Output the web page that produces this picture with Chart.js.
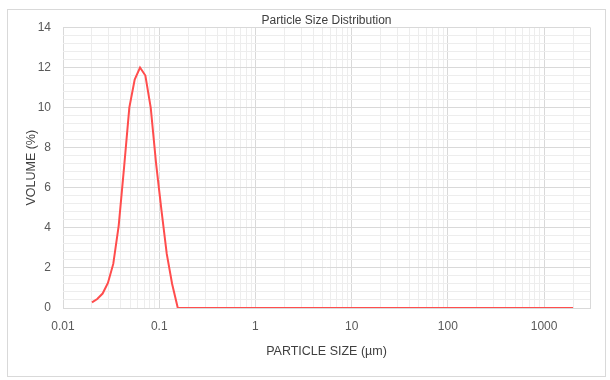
<!DOCTYPE html>
<html>
<head>
<meta charset="utf-8">
<script src="https://cdn.jsdelivr.net/npm/chart.js@4/dist/chart.umd.min.js"></script>
<style>
  html, body { margin: 0; padding: 0; background: #ffffff; }
  #wrap { position: relative; width: 610px; height: 380px; }
</style>
</head>
<body>
<div id="wrap"><canvas id="c" width="610" height="380"></canvas></div>
<script>
// ---- data ----
const chartTitle = "Particle Size Distribution";
const xTitle = "PARTICLE SIZE (\u00b5m)";
const yTitle = "VOLUME (%)";
const particleSize = [0.0200, 0.0227, 0.0258, 0.0293, 0.0333, 0.0379, 0.0431, 0.0489, 0.0556, 0.0632,
                      0.0718, 0.0816, 0.0928, 0.1054, 0.1198, 0.1362, 0.1560, 1, 10, 100, 1000, 2000];
const volumePct    = [0.28, 0.45, 0.72, 1.25, 2.2, 4.1, 7.0, 10.0, 11.4, 12.0,
                      11.6, 10.0, 7.2, 4.9, 2.7, 1.2, 0, 0, 0, 0, 0, 0];
const xTickLabels = ["0.01", "0.1", "1", "10", "100", "1000"];
const yTickLabels = ["0", "2", "4", "6", "8", "10", "12", "14"];
const xMin = 0.01, xMax = 3000;
const yMin = 0, yMax = 14, yMinorStep = 0.4;

const FONT = "'Liberation Sans Narrow', 'Liberation Sans', sans-serif";
const MAJOR = '#d9d9d9';
const MINOR = '#ededed';

const borderPlugin = {
  id: 'outerBorder',
  beforeDraw(chart) {
    const ctx = chart.ctx;
    ctx.save();
    ctx.fillStyle = '#ffffff';
    ctx.fillRect(0, 0, chart.width, chart.height);
    ctx.strokeStyle = '#d9d9d9';
    ctx.lineWidth = 1;
    ctx.strokeRect(7.5, 9.5, 598, 367);
    ctx.restore();
  }
};

new Chart(document.getElementById('c'), {
  type: 'scatter',
  data: {
    datasets: [{
      data: particleSize.map((s, i) => ({ x: s, y: volumePct[i] })),
      showLine: true,
      borderColor: '#ff4d4d',
      backgroundColor: '#ff4d4d',
      borderWidth: 2,
      pointRadius: 0,
      tension: 0
    }]
  },
  options: {
    responsive: false,
    animation: false,
    layout: { padding: { left: 0, right: 20, top: 0, bottom: 0 } },
    plugins: {
      legend: { display: false },
      tooltip: { enabled: false },
      title: {
        display: true,
        text: chartTitle,
        fullSize: false,
        color: '#404040',
        font: { family: FONT, size: 12, weight: 'normal', lineHeight: 1.2 },
        padding: { top: 13, bottom: 0 }
      }
    },
    scales: {
      x: {
        type: 'logarithmic',
        min: xMin,
        max: xMax,
        afterBuildTicks(scale) {
          const t = [];
          for (let e = -2; e <= 3; e++) {
            for (let d = 1; d <= 9; d++) {
              const v = parseFloat((d * Math.pow(10, e)).toPrecision(6));
              if (v > xMax) break;
              t.push({ value: v, major: d === 1 || v === xMax });
            }
          }
          scale.ticks = t;
        },
        afterFit(scale) { scale.height = 72; },
        ticks: {
          autoSkip: false,
          maxRotation: 0,
          padding: 11,
          color: '#595959',
          font: { family: FONT, size: 12 },
          callback(value) {
            const s = String(value);
            return xTickLabels.includes(s) ? s : '';
          }
        },
        grid: {
          drawTicks: false,
          color: (ctx) => (ctx.tick && ctx.tick.major) ? MAJOR : MINOR,
          lineWidth: 1
        },
        border: { display: true, color: MAJOR },
        title: {
          display: true,
          text: xTitle,
          color: '#404040',
          font: { family: FONT, size: 12.5, lineHeight: 1.2 },
          padding: { top: 21, bottom: 21 }
        }
      },
      y: {
        type: 'linear',
        min: yMin,
        max: yMax,
        afterBuildTicks(scale) {
          const t = [];
          const n = Math.round((yMax - yMin) / yMinorStep);
          for (let i = 0; i <= n; i++) {
            const v = Math.round((yMin + i * yMinorStep) * 1000) / 1000;
            t.push({ value: v, major: yTickLabels.includes(String(v)) });
          }
          scale.ticks = t;
        },
        afterFit(scale) { scale.width = 63; },
        ticks: {
          autoSkip: false,
          padding: 12,
          color: '#595959',
          font: { family: FONT, size: 12 },
          callback(value) {
            const s = String(value);
            return yTickLabels.includes(s) ? s : '';
          }
        },
        grid: {
          drawTicks: false,
          color: (ctx) => (ctx.tick && ctx.tick.major) ? MAJOR : MINOR,
          lineWidth: 1
        },
        border: { display: false },
        title: {
          display: true,
          text: yTitle,
          color: '#404040',
          font: { family: FONT, size: 12.5, lineHeight: 1.2 },
          padding: { top: 24, bottom: 24 }
        }
      }
    }
  },
  plugins: [borderPlugin]
});
</script>
</body>
</html>
